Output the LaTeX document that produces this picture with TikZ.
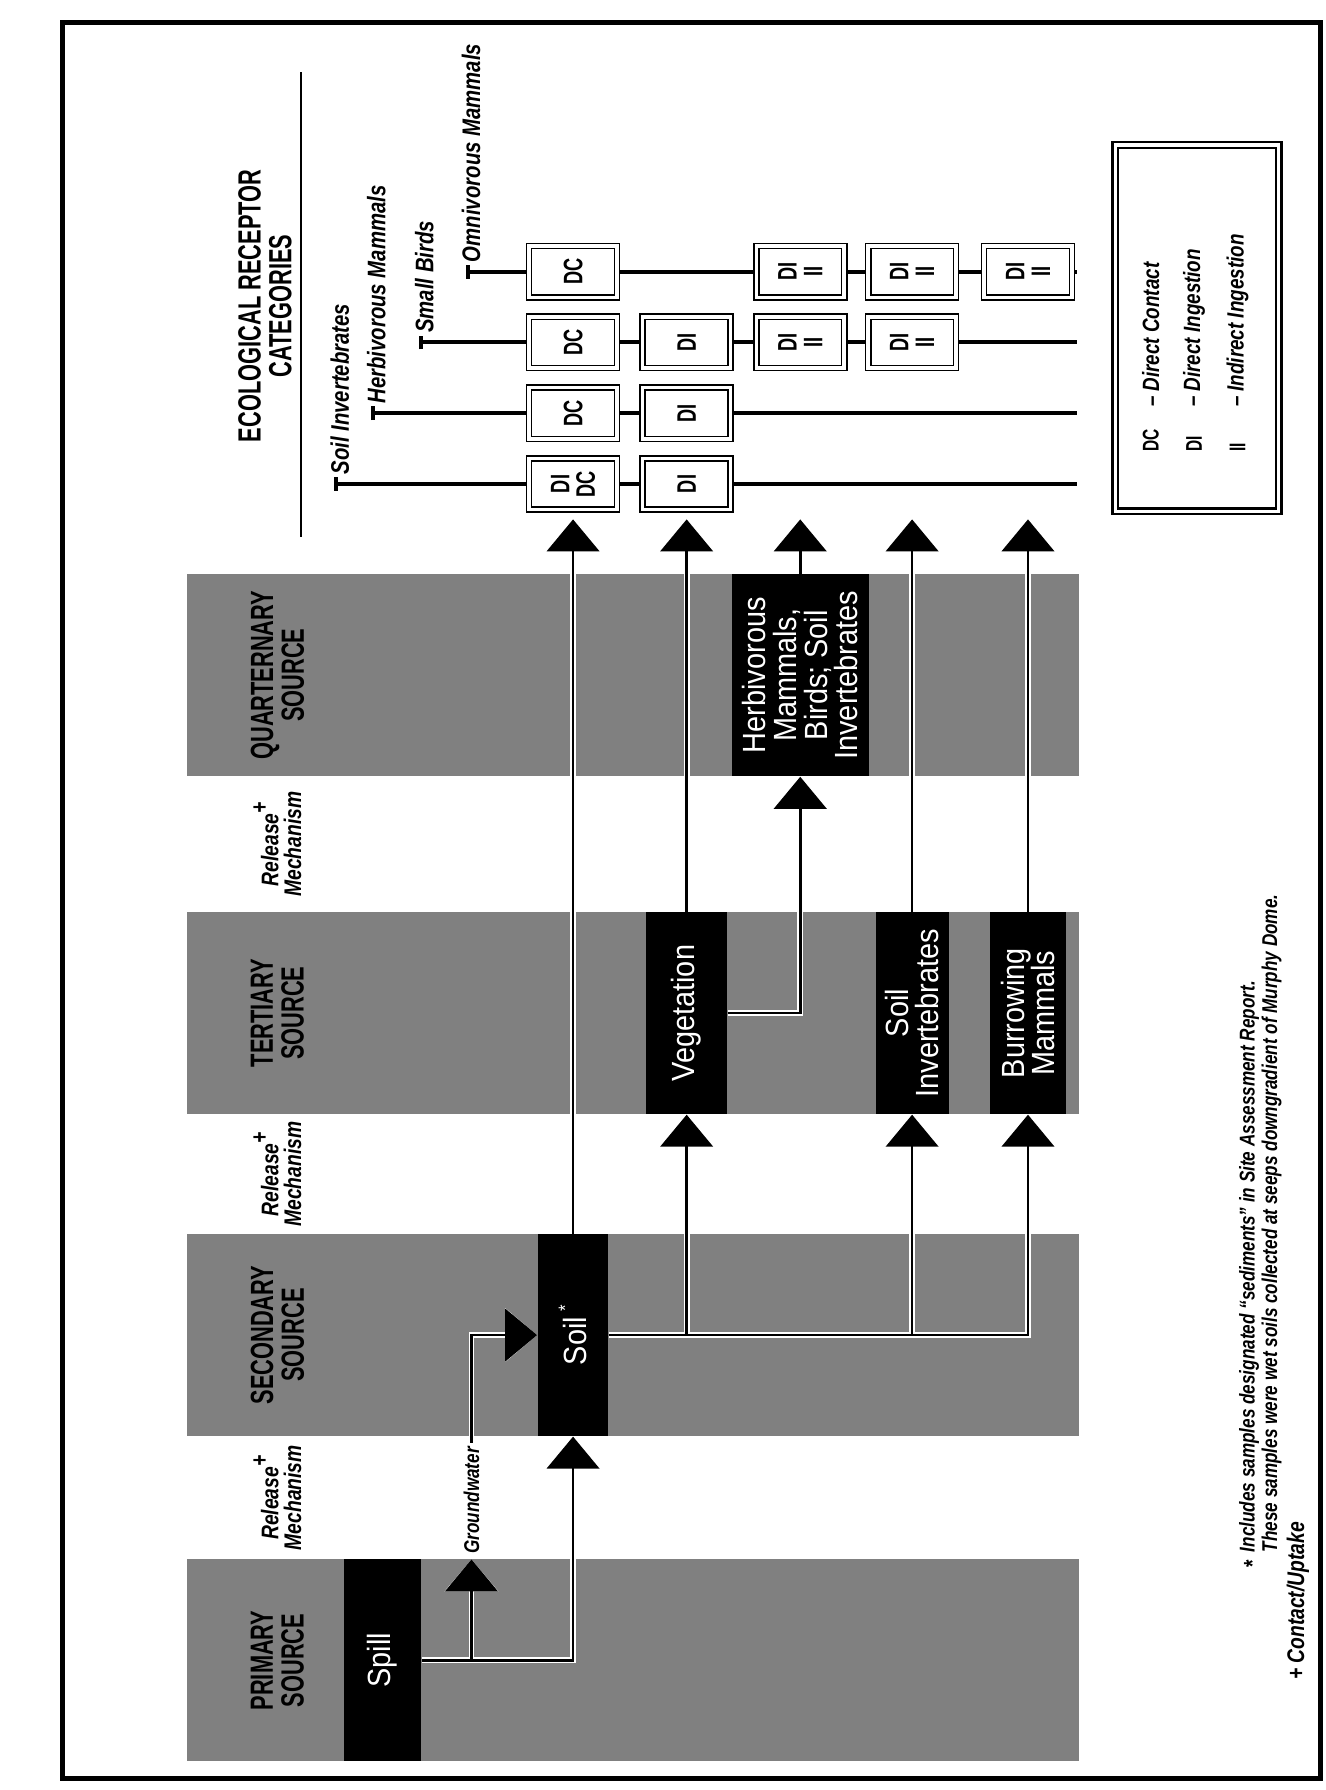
\documentclass[tikz,border=0pt]{standalone}
\usepackage{fontspec}
\setmainfont{Liberation Sans}
\newfontfamily\boxfont[FakeStretch=0.9]{Liberation Sans}
\newfontfamily\capsfont[FakeStretch=0.68]{Liberation Sans}
\newfontfamily\notefont[FakeStretch=0.8]{Liberation Sans}
\usetikzlibrary{arrows.meta,positioning}

\newcommand{\pxu}{0.015cm}

\tikzset{
  band/.style={fill=black!50},
  srcbox/.style={fill=black, text=white, inner sep=0pt, minimum width=177*\pxu,
    align=center, font=\boxfont\fontsize{12}{11.5}\selectfont},
  hdr/.style={inner sep=0pt, align=center, font=\capsfont\bfseries\fontsize{12}{11.5}\selectfont},
  mech/.style={inner sep=0pt, align=center, font=\notefont\bfseries\itshape\fontsize{9}{8.5}\selectfont},
  flow/.style={line width=0.95pt, preaction={draw=white, line width=2.2pt}},
  branch/.style={flow, shorten <=0.5pt},
  rowline/.style={line width=1.5pt, {Bar[width=0.18cm]}-},
  recbox/.style={draw, double, double distance=1.3pt, line width=0.6pt, fill=white, inner sep=0pt,
    minimum width=45*\pxu, minimum height=77*\pxu, align=center,
    font=\capsfont\bfseries\fontsize{10}{9.6}\selectfont},
  reclab/.style={inner sep=0pt, font=\notefont\bfseries\itshape\fontsize{9.5}{9.5}\selectfont},
  gwlab/.style={inner sep=1.5pt, anchor=west, font=\notefont\bfseries\itshape\fontsize{8}{8}\selectfont},
  legabbr/.style={inner sep=0pt, anchor=west, font=\capsfont\bfseries\fontsize{8.5}{8.5}\selectfont},
  legtext/.style={inner sep=0pt, anchor=west, font=\notefont\bfseries\itshape\fontsize{8.8}{8.8}\selectfont},
  fnote/.style={inner sep=0pt, anchor=west, align=left, font=\notefont\bfseries\itshape\fontsize{8}{7.2}\selectfont}
}

\begin{document}
\begin{tikzpicture}[>={Triangle[width=0.69cm,length=0.42cm]}]
  \begin{scope}[rotate=90, transform shape, x=\pxu, y=\pxu]
    \useasboundingbox (0,0) rectangle (1568,1161);
    \draw[line width=2pt] (10,4) rectangle (1548,1106);

    % source columns
    \foreach \xa in {25,310,592,888}
      \fill[band] (\xa,216) rectangle ++(177,781);
    \node[hdr] (hdr1) at (113.5,918) {PRIMARY\\SOURCE};
    \node[hdr] (hdr2) at (398.5,918) {SECONDARY\\SOURCE};
    \node[hdr] (hdr3) at (680.5,918) {TERTIARY\\SOURCE};
    \node[hdr] (hdr4) at (976.5,918) {QUARTERNARY\\SOURCE};
    \foreach \xm [count=\i] in {256,539.5,828.5}
      \node[mech] (mech\i) at (\xm,918) {Release\raisebox{0.85ex}{+}\\Mechanism};

    \node[srcbox, minimum height=68*\pxu] (spill) at (113.5,826) {Spill};
    \node[srcbox, minimum height=62*\pxu] (soil) at (398.5,659) {Soil\,\raisebox{0.9ex}{\scriptsize *}};
    \node[srcbox, minimum height=71*\pxu] (veg) at (680.5,559.5) {Vegetation};
    \node[srcbox, minimum height=64*\pxu] (soilinv) at (680.5,362) {Soil\\Invertebrates};
    \node[srcbox, minimum height=67*\pxu] (burrow) at (680.5,260.5) {Burrowing\\Mammals};
    \node[srcbox, minimum height=120*\pxu] (herb) at (976.5,460) {Herbivorous\\Mammals,\\Birds; Soil\\Invertebrates};

    % pathways
    \draw[flow,->] (spill.south) |- (soil.west);
    \coordinate (gwj) at (113.5,748);
    \coordinate (gwtip) at (202,748);
    \draw[branch,->] (gwj) -- (gwtip);
    \node[gwlab] (gw) at (203,748) {Groundwater};
    \draw[flow,->] (gw.east) -| (soil.north);

    \draw[flow,->] (soil.south) |- (burrow.west);
    \draw[branch,->] (soil.south |- soilinv.west) -- (soilinv.west);
    \draw[branch,->] (soil.south |- veg.west) -- (veg.west);
    \draw[flow,->] (veg.south) |- (herb.west);

    \coordinate (rec) at (1113,0);
    \foreach \b in {soil,veg,herb,soilinv,burrow}
      \draw[flow,->] (\b.east) -- (\b.east -| rec);

    % receptor categories
    \node[hdr] (title) at (1300,929) {ECOLOGICAL RECEPTOR\\CATEGORIES};
    \draw[line width=0.8pt] (1098,897) -- (1505,897);
    \foreach \n/\xr/\yt/\lab in {si/1144/868/Soil Invertebrates, hm/1206/836/Herbivorous Mammals,
        sb/1268/794/Small Birds, om/1330/753/Omnivorous Mammals}{
      \coordinate (\n-top) at (\xr,\yt);
      \coordinate (\n-end) at (\xr,218);
      \draw[rowline] (\n-top) -- (\n-end);
      \node[reclab, right=0.12cm of \n-top, yshift=-0.07cm] (\n-lab) {\lab};
    }
    \foreach \n/\xr/\yc/\lab in {
        si1/1144/659/{DI\\DC}, si2/1144/559.5/DI,
        hm1/1206/659/DC, hm2/1206/559.5/DI,
        sb1/1268/659/DC, sb2/1268/559.5/DI, sb3/1268/460/{DI\\II}, sb4/1268/362/{DI\\II},
        om1/1330/659/DC, om3/1330/460/{DI\\II}, om4/1330/362/{DI\\II}, om5/1330/260.5/{DI\\II}}
      \node[recbox] (\n) at (\xr,\yc) {\lab};

    % legend
    \node[draw, double, double distance=1.2pt, line width=0.9pt, minimum width=321*\pxu,
      minimum height=143*\pxu] (legend) at (1280.5,112.5) {};
    \foreach \ab/\tx/\yl in {DC/Direct Contact/153, DI/Direct Ingestion/115, II/Indirect Ingestion/77}{
      \node[legabbr] (leg-\ab) at (1172,\yl) {\ab};
      \node[legtext] (legt-\ab) at (1211,\yl) {\textendash\ \tx};
    }

    % notes
    \node[fnote, font=\notefont\bfseries\fontsize{9}{9}\selectfont] (fnstar) at (194,64) {*};
    \node[fnote] (fntext) at (208,57) {Includes samples designated \textquotedblleft sediments\textquotedblright\ in Site Assessment Report.\\These samples were wet soils collected at seeps downgradient of Murphy Dome.};
    \node[fnote, font=\notefont\bfseries\itshape\fontsize{9}{9}\selectfont] (fnplus) at (96,24) {+ Contact/Uptake};
  \end{scope}
\end{tikzpicture}
\end{document}
